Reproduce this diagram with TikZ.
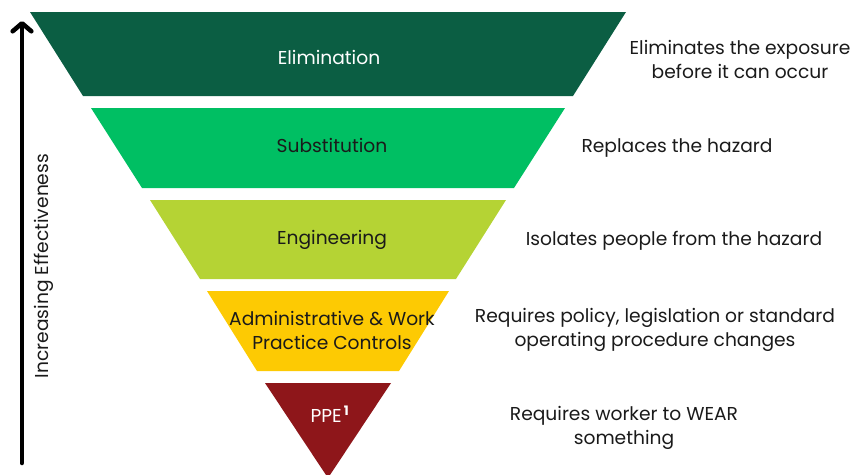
\documentclass[tikz,border=0pt]{standalone}
\usepackage{fontspec}
\setmainfont{Poppins}
\usetikzlibrary{arrows.meta}
\definecolor{elim}{HTML}{0B5E43}
\definecolor{subs}{HTML}{00BF63}
\definecolor{engi}{HTML}{B5D334}
\definecolor{admi}{HTML}{FDCA03}
\definecolor{ppec}{HTML}{8E161A}
\definecolor{txt}{HTML}{1A1A1A}
\begin{document}
\begin{tikzpicture}[x=0.75pt,y=-0.75pt,
  lab/.style={font=\fontsize{14pt}{18pt}\selectfont, align=center, inner sep=0pt, text=txt},
  desc/.style={font=\fontsize{14pt}{18pt}\selectfont, align=center, inner sep=0pt, text=txt}]
\useasboundingbox (0,0) rectangle (868,475);
% trapezoids
\fill[elim] (30,12) -- (626,12) -- (573,96) -- (83,96) -- cycle;
\fill[subs] (91,108) -- (565,108) -- (514,188) -- (142,188) -- cycle;
\fill[engi] (150,200) -- (506,200) -- (456,279) -- (200,279) -- cycle;
\fill[admi] (207,291) -- (449,291) -- (399,371) -- (257,371) -- cycle;
\fill[ppec] (265,383) -- (391,383) -- (328,478) -- cycle;
% labels
\node[lab, text=white] (e) at (329,57) {Elimination};
\node[lab] (s) at (332,145) {Substitution};
\node[lab] (g) at (332,240) {Engineering};
\node[lab] (a) at (332,330) {Administrative \& Work\\Practice Controls};
\node[lab, text=white] (p) at (330,414) {PPE\textsuperscript{\,\textbf{1}}};
% descriptions
\node[desc] (de) at (740,59) {Eliminates the exposure\\before it can occur};
\node[desc] (ds) at (677,148) {Replaces the hazard};
\node[desc] (dg) at (674,241) {Isolates people from the hazard};
\node[desc] (da) at (655,330) {Requires policy, legislation or standard\\operating procedure changes};
\node[desc] (dp) at (624,428) {Requires worker to WEAR\\something};
% arrow
\coordinate (abot) at (22,463);
\coordinate (atop) at (22,21);
\draw[line width=3.4pt, line cap=round, -{Straight Barb[length=6pt, width=14pt, line cap=round, line join=round]}] (abot) -- (atop);
\node[lab, rotate=90] (ax) at (44,266) {Increasing Effectiveness};
\end{tikzpicture}
\end{document}
